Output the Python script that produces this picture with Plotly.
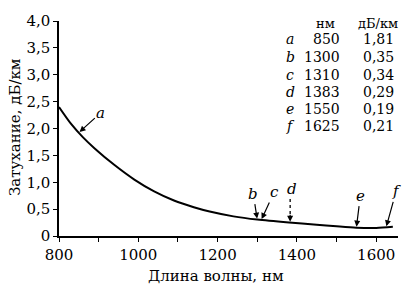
import numpy as np
import plotly.graph_objects as go

# curve
wavelength = [800, 830, 860, 890, 940, 990, 1040, 1090, 1140, 1180, 1240, 1300, 1380, 1450, 1500, 1550, 1600, 1642]
attenuation = [2.40, 2.09, 1.84, 1.63, 1.32, 1.05, 0.83, 0.66, 0.535, 0.455, 0.365, 0.305, 0.25, 0.21, 0.18, 0.155, 0.15, 0.17]

# table
labels = ["a", "b", "c", "d", "e", "f"]
table_nm = [850, 1300, 1310, 1383, 1550, 1625]
table_db = ["1,81", "0,35", "0,34", "0,29", "0,19", "0,21"]

y_ticks = [0, 0.5, 1.0, 1.5, 2.0, 2.5, 3.0, 3.5, 4.0]
y_text = ["0", "0,5", "1,0", "1,5", "2,0", "2,5", "3,0", "3,5", "4,0"]
x_ticks = [800, 900, 1000, 1100, 1200, 1300, 1400, 1500, 1600]
x_text = ["800", "", "1000", "", "1200", "", "1400", "", "1600"]

W, H = 418, 291
L, R, T, B = 59, 20, 15, 55
SERIF = "DejaVu Serif"
Y_PX_PER_UNIT = (H - T - B) / 4.0

def px(x):
    return (x - L) / (W - L - R)

def py(y):
    return (H - B - y) / (H - T - B)

fig = go.Figure()
fig.add_trace(go.Scatter(x=wavelength, y=attenuation, mode="lines",
                         line=dict(color="black", width=2, shape="spline", smoothing=0.8),
                         hoverinfo="skip", showlegend=False))

ann = []
shapes = []
lab_font = dict(family=SERIF, size=15, color="black", style="italic")
# curve labels with arrows
offsets = {"a": (22, -20), "b": (-4, -26), "c": (13, -28), "d": (2, -34), "e": (4, -32), "f": (10, -36)}
for lab, nm in zip(labels, table_nm):
    yv = float(np.interp(nm, wavelength, attenuation))
    ax, ay = offsets[lab]
    if lab == "d":
        # dotted shaft + arrowhead + label
        shapes.append(dict(type="line", xref="x", yref="y", x0=nm, x1=nm,
                           y0=yv + 9 / Y_PX_PER_UNIT, y1=yv + 25 / Y_PX_PER_UNIT,
                           line=dict(color="black", width=1.3, dash="dot")))
        ann.append(dict(x=nm, y=yv, xref="x", yref="y", text=" ", showarrow=True,
                        ax=0, ay=-10, arrowhead=2, arrowsize=1, arrowwidth=1.2,
                        arrowcolor="black", standoff=1,
                        font=dict(family=SERIF, size=1, color="black")))
        ann.append(dict(x=nm, y=yv, xref="x", yref="y", text=lab, showarrow=False,
                        xshift=ax, yshift=-ay, font=lab_font))
    else:
        ann.append(dict(x=nm, y=yv, xref="x", yref="y", text=lab, showarrow=True,
                        ax=ax, ay=ay, arrowhead=2, arrowsize=1, arrowwidth=1.2,
                        arrowcolor="black", standoff=1, font=lab_font))

def txt(x, y, s, size=15, anchor="center", italic=False, angle=0):
    f = dict(family=SERIF, size=size, color="black")
    if italic:
        f["style"] = "italic"
    return dict(x=px(x), y=py(y), xref="paper", yref="paper", text=s, showarrow=False,
                xanchor=anchor, yanchor="middle", textangle=angle, font=f)

# table header
ann.append(txt(325, 18, "нм", 13))
ann.append(txt(378, 18, "дБ/км", 13))
row_y = [34, 52, 70, 87.5, 105, 122.5]
for lab, nm, db, ry in zip(labels, table_nm, table_db, row_y):
    ann.append(txt(290, ry, lab, 14, italic=True))
    ann.append(txt(342, ry, str(nm), 14, anchor="right"))
    ann.append(txt(396, ry, db, 14, anchor="right"))

# axis titles
ann.append(txt(216, 277, "Длина волны, нм", 15))
ann.append(txt(15, 124, "Затухание, дБ/км", 15, angle=-90))

fig.update_layout(
    width=W, height=H, margin=dict(l=L, r=R, t=T, b=B),
    paper_bgcolor="white", plot_bgcolor="white",
    font=dict(family=SERIF, color="black"),
    annotations=ann, shapes=shapes, showlegend=False,
    xaxis=dict(range=[800, 1655], tickvals=x_ticks, ticktext=x_text, showgrid=False, zeroline=False,
               showline=True, linecolor="black", linewidth=1.5, ticks="outside", ticklen=4,
               tickcolor="black", tickfont=dict(family=SERIF, size=15, color="black")),
    yaxis=dict(range=[0, 4.0], tickvals=y_ticks, ticktext=y_text, showgrid=False, zeroline=False,
               showline=True, linecolor="black", linewidth=1.5, ticks="outside", ticklen=4,
               tickcolor="black", tickfont=dict(family=SERIF, size=15, color="black")),
)

fig.write_html("out.html")
